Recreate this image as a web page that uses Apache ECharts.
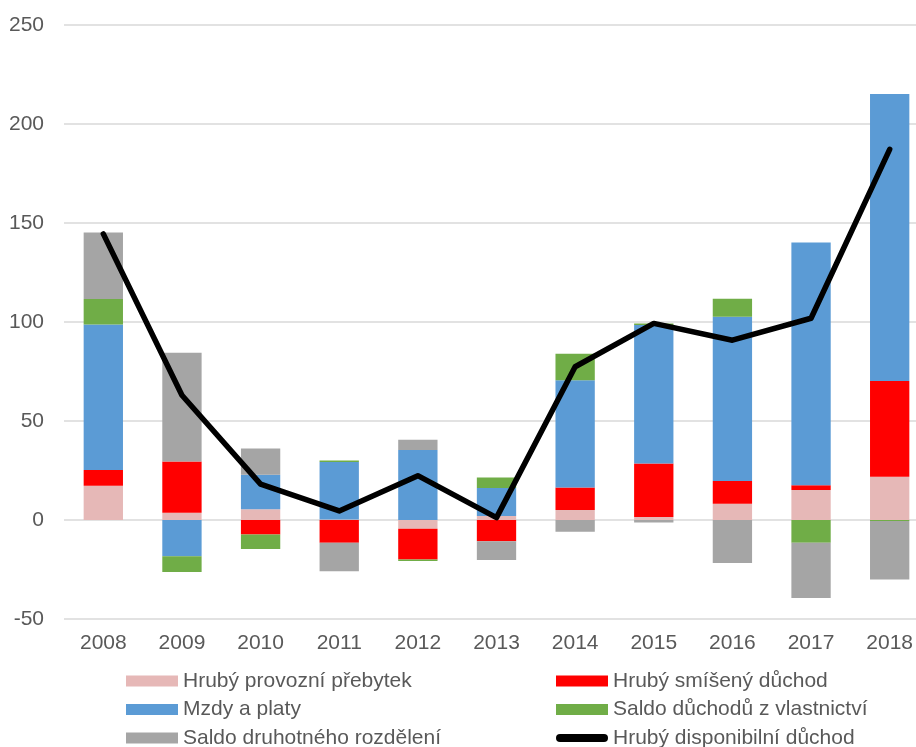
<!DOCTYPE html>
<html>
<head>
<meta charset="utf-8">
<script src="https://cdn.jsdelivr.net/npm/echarts@6/dist/echarts.min.js"></script>
<style>
html,body{margin:0;padding:0;background:#fff;}
#chart{width:916px;height:747px;}
</style>
</head>
<body>
<div id="chart"></div>
<script>
var years = ['2008','2009','2010','2011','2012','2013','2014','2015','2016','2017','2018'];
var provozniPrebytek = [17.3, 3.7, 5.4, 0.3, -4.4, 2.0, 5.1, 1.5, 8.2, 15.1, 21.9];
var smisenyDuchod = [8.0, 25.8, -7.3, -11.5, -15.6, -10.7, 11.3, 27.0, 11.5, 2.5, 48.3];
var mzdyPlaty = [73.5, -18.3, 17.5, 29.0, 35.4, 14.1, 54.2, 70.0, 83.0, 122.5, 144.9];
var saldoVlastnictvi = [12.8, -8.0, -7.3, 0.8, -0.7, 5.4, 13.4, 0.7, 9.1, -11.5, -0.5];
var saldoDruhotne = [33.6, 55.0, 13.2, -14.4, 5.1, -9.5, -5.9, -1.2, -21.7, -27.9, -29.5];
var disponibilniDuchod = [144.5, 63.0, 18.1, 4.6, 22.4, 1.2, 77.4, 99.3, 90.8, 101.9, 187.2];
var yTicks = [-50, 0, 50, 100, 150, 200, 250];

var names = ['Hrubý provozní přebytek','Hrubý smíšený důchod','Mzdy a platy','Saldo důchodů z vlastnictví','Saldo druhotného rozdělení','Hrubý disponibilní důchod'];
var colors = ['#E6B8B7','#FF0000','#5B9BD5','#70AD47','#A5A5A5','#000000'];
var barData = [provozniPrebytek, smisenyDuchod, mzdyPlaty, saldoVlastnictvi, saldoDruhotne];

var chart = echarts.init(document.getElementById('chart'), null, {renderer:'canvas'});
var font = '"Liberation Sans", Arial, sans-serif';
var txt = '#595959';

var series = barData.map(function(d, i){
  return {
    name: names[i], type: 'bar', stack: 'total', data: d,
    barWidth: '50%', itemStyle: {color: colors[i]}, emphasis: {disabled: true}
  };
});
series.push({
  name: names[5], type: 'line', data: disponibilniDuchod,
  showSymbol: false, symbol: 'none',
  lineStyle: {color: '#000', width: 5.5, cap: 'round', join: 'round'},
  itemStyle: {color: '#000'}, z: 10, emphasis: {disabled: true}
});

var legendCommon = {
  orient: 'vertical', itemWidth: 52, itemHeight: 11, itemGap: 7.5,
  textStyle: {fontFamily: font, fontSize: 21, color: txt, padding: [0,0,0,0]},
  selectedMode: false, padding: 0, height: 120
};

chart.setOption({
  animation: false,
  color: colors,
  grid: {left: 64, top: 25, width: 865, height: 594, outerBoundsMode: 'none', containLabel: false},
  legend: [
    Object.assign({}, legendCommon, {left: 126, top: 670.5, data: [
      {name: names[0], icon: 'rect'}, {name: names[2], icon: 'rect'}, {name: names[4], icon: 'rect'}
    ]}),
    Object.assign({}, legendCommon, {left: 556, top: 670.5, data: [
      {name: names[1], icon: 'rect'}, {name: names[3], icon: 'rect'},
      {name: names[5], icon: 'path://M4,1 L48,1 A4,4 0 0 1 48,9 L4,9 A4,4 0 0 1 4,1 Z', itemStyle: {color: '#000'}}
    ]})
  ],
  xAxis: {
    type: 'category', data: years, position: 'bottom',
    axisLine: {show: false, onZero: false}, axisTick: {show: false},
    axisLabel: {fontFamily: font, fontSize: 21, color: txt, margin: 14}
  },
  yAxis: {
    type: 'value', min: yTicks[0], max: yTicks[yTicks.length-1], interval: 50,
    axisLine: {show: false}, axisTick: {show: false},
    axisLabel: {fontFamily: font, fontSize: 21, color: txt, margin: 20},
    splitLine: {lineStyle: {color: '#D9D9D9', width: 1.5}}
  },
  series: series
});
</script>
</body>
</html>
